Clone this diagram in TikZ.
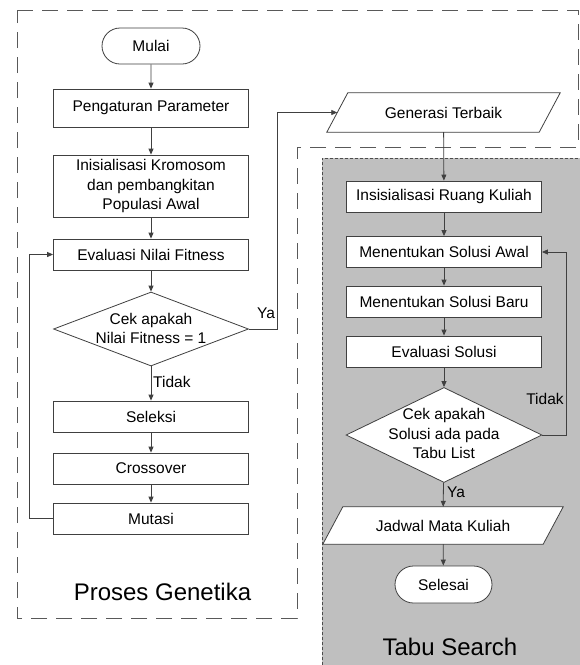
\documentclass[tikz,border=0pt]{standalone}
\usepackage{fontspec}
\setmainfont{Liberation Sans}
\usetikzlibrary{shapes.geometric,shapes.misc,arrows.meta}
\pgfdeclarelayer{bg}
\pgfdeclarelayer{mid}
\pgfsetlayers{bg,mid,main}
\begin{document}
\begin{tikzpicture}[x=1pt,y=-1pt,
  lw/.style={draw=black!75, line width=0.8pt},
  bfont/.style={font=\fontsize{15.5}{19.5}\selectfont},
  box/.style={rectangle, lw, fill=white, minimum width=195pt, minimum height=31pt, inner sep=0pt, bfont, align=center},
  term/.style={rounded rectangle, lw, fill=white, minimum width=98pt, minimum height=36pt, inner sep=0pt, bfont},
  io/.style={rectangle, minimum width=212pt, minimum height=39pt, inner sep=0pt, bfont},
  iopath/.style={lw, fill=white},
  dia/.style={diamond, lw, fill=white, minimum width=195pt, minimum height=74pt, inner sep=0pt},
  txt/.style={bfont, align=center, inner sep=0pt},
  arr/.style={lw, -{Triangle[length=6pt,width=5pt]}},
  big/.style={font=\fontsize{24}{28}\selectfont, inner sep=0pt},
]
\useasboundingbox (0,0) rectangle (580,665);
% regions
\begin{pgfonlayer}{bg}
\fill[white] (0,0) rectangle (580,665);
\draw[draw=black!65, line width=0.9pt, dash pattern=on 16pt off 9pt]
  (17,10) -- (578,10) -- (578,147) -- (297,147) -- (297,618) -- (17,618) -- cycle;
\fill[black!25] (322,158) rectangle (585,670);
\draw[draw=black!70, line width=0.8pt, dash pattern=on 3pt off 2pt]
  (322,670) -- (322,158) -- (585,158);
\end{pgfonlayer}
\node[big] (pg) at (162.5,591.5) {Proses Genetika};
\node[big] (ts) at (450,646.5) {Tabu Search};
% left column
\node[term] (mulai) at (151,46) {Mulai};
\node[box, minimum height=38pt] (par) at (151,108) {Pengaturan Parameter};
\node[box, minimum height=62pt] (ini) at (151,186) {Inisialisasi Kromosom\\dan pembangkitan\\Populasi Awal};
\node[box] (evl) at (151,254.5) {Evaluasi Nilai Fitness};
\node[dia] (d1) at (151,329) {};
\node[txt] (d1t) at (151,328.5) {Cek apakah\\Nilai Fitness = 1};
\node[box] (sel) at (151,416.5) {Seleksi};
\node[box] (cro) at (151,468.5) {Crossover};
\node[box] (mut) at (151,518.5) {Mutasi};
% right column
\node[io] (gen) at (443.5,112.5) {Generasi Terbaik};
\node[box] (ins) at (444,196.5) {Insisialisasi Ruang Kuliah};
\node[box] (awal) at (444,252) {Menentukan Solusi Awal};
\node[box] (baru) at (444,301.5) {Menentukan Solusi Baru};
\node[box] (evs) at (444,351.5) {Evaluasi Solusi};
\node[dia, minimum width=196pt, minimum height=95pt] (d2) at (444,435) {};
\node[txt] (d2t) at (444,433.5) {Cek apakah\\Solusi ada pada\\Tabu List};
\node[io, minimum width=220pt, minimum height=37pt] (jad) at (443,525.5) {Jadwal Mata Kuliah};
\node[term, minimum width=97pt, minimum height=37pt] (fin) at (443.5,584.5) {Selesai};
\begin{pgfonlayer}{mid}
\draw[iopath] ([xshift=-10.5pt]gen.south west) -- ([xshift=10.5pt]gen.north west)
  -- ([xshift=10.5pt]gen.north east) -- ([xshift=-10.5pt]gen.south east) -- cycle;
\draw[iopath] ([xshift=-10pt]jad.south west) -- ([xshift=10pt]jad.north west)
  -- ([xshift=10pt]jad.north east) -- ([xshift=-10pt]jad.south east) -- cycle;
\end{pgfonlayer}
% connectors
\draw[arr] (mulai) -- (par);
\draw[arr] (par) -- (ini);
\draw[arr] (ini) -- (evl);
\draw[arr] (evl) -- (d1);
\draw[arr] (d1) -- (sel);
\draw[arr] (sel) -- (cro);
\draw[arr] (cro) -- (mut);
\coordinate (c1) at (277,329);
\draw[arr] (d1.east) -- (c1) |- (gen.west);
\coordinate (c3) at (29,518.5);
\draw[arr] (mut.west) -- (c3) |- (evl.west);
\draw[arr] (gen) -- (ins);
\draw[arr] (ins) -- (awal);
\draw[arr] (awal) -- (baru);
\draw[arr] (baru) -- (evs);
\draw[arr] (evs) -- (d2);
\draw[arr] (d2) -- (jad);
\draw[arr] (jad) -- (fin);
\coordinate (c2) at (566,435);
\draw[arr] (d2.east) -- (c2) |- (awal.east);
% labels
\node[txt] (ya1) at (266,313) {Ya};
\node[txt, anchor=west] (td1) at (153,382) {Tidak};
\node[txt] (td2) at (545,399) {Tidak};
\node[txt, anchor=west] (ya2) at (447,492) {Ya};
\end{tikzpicture}
\end{document}
